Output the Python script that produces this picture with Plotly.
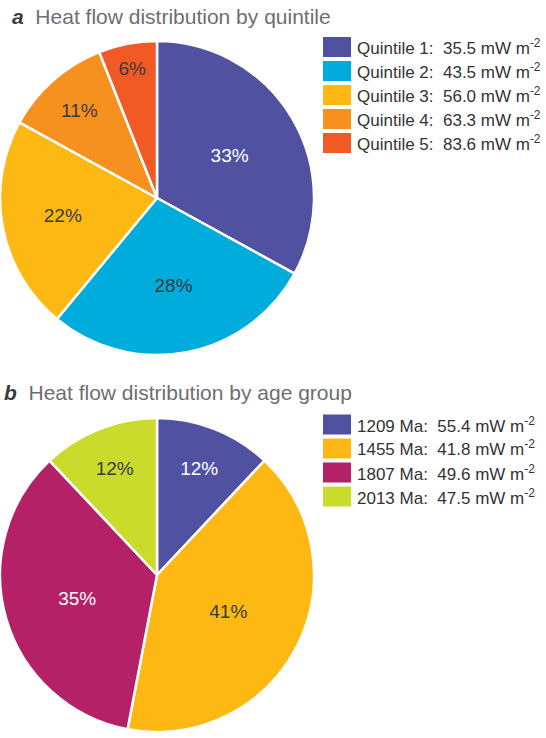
import plotly.graph_objects as go

W, H = 546, 738

# panel a: quintiles
quintile_labels = ["Quintile 1", "Quintile 2", "Quintile 3", "Quintile 4", "Quintile 5"]
quintile_flow = [35.5, 43.5, 56.0, 63.3, 83.6]
quintile_share = [33, 28, 22, 11, 6]
quintile_colors = ["#5151a2", "#00acdc", "#fdb814", "#f6901e", "#f15a24"]
quintile_text = ["#ffffff", "#3a3a3a", "#3a3a3a", "#3a3a3a", "#3a3a3a"]

# panel b: age groups
age_labels = ["1209 Ma", "1455 Ma", "1807 Ma", "2013 Ma"]
age_flow = [55.4, 41.8, 49.6, 47.5]
age_share = [12, 41, 35, 12]
age_colors = ["#5151a2", "#fdb814", "#b52166", "#cbdb2b"]
age_text = ["#ffffff", "#3a3a3a", "#ffffff", "#3a3a3a"]

FONT = "Liberation Sans, Arial, sans-serif"


def px_x(x):
    return x / W


def px_y(y):
    return 1 - y / H


def make_pie(shares, colors, text_colors, labels, ytop, ybot):
    return go.Pie(
        values=shares,
        labels=labels,
        sort=False,
        direction="clockwise",
        rotation=0,
        marker=dict(colors=colors, line=dict(color="white", width=2.5)),
        texttemplate="%{value}%",
        textposition="inside",
        insidetextorientation="horizontal",
        insidetextfont=dict(family=FONT, size=19, color=text_colors),
        domain=dict(x=[0, px_x(314)], y=[px_y(ybot), px_y(ytop)]),
        showlegend=False,
        hoverinfo="label+percent",
    )


fig = go.Figure()
fig.add_trace(make_pie(quintile_share, quintile_colors, quintile_text, quintile_labels, 41, 355))
fig.add_trace(make_pie(age_share, age_colors, age_text, age_labels, 417, 733))

shapes = []
annotations = []


def add_legend(labels, flows, colors, y_first):
    for i, (lab, val, col) in enumerate(zip(labels, flows, colors)):
        yc = y_first + 24 * i
        shapes.append(dict(
            type="rect", xref="paper", yref="paper",
            x0=px_x(323), x1=px_x(351), y0=px_y(yc + 10), y1=px_y(yc - 10),
            fillcolor=col, line=dict(width=0),
        ))
        annotations.append(dict(
            xref="paper", yref="paper", x=px_x(355), y=px_y(yc),
            xanchor="left", yanchor="middle", showarrow=False,
            text=f"{lab}:  {val:.1f} mW m<sup>-2</sup>",
            font=dict(family=FONT, size=17, color="#333333"),
        ))


def add_title(letter, title, x, y):
    annotations.append(dict(
        xref="paper", yref="paper", x=px_x(x), y=px_y(y),
        xanchor="left", yanchor="middle", showarrow=False,
        text=f"<b><i>{letter}</i></b>  <span style='color:#6d6e71'>{title}</span>",
        font=dict(family=FONT, size=21, color="#3a3a3a"),
    ))


add_title("a", "Heat flow distribution by quintile", 10, 16)
add_title("b", "Heat flow distribution by age group", 2, 392)
add_legend(quintile_labels, quintile_flow, quintile_colors, 47)
add_legend(age_labels, age_flow, age_colors, 424.5)

fig.update_layout(
    width=W, height=H,
    margin=dict(l=0, r=0, t=0, b=0),
    paper_bgcolor="white",
    plot_bgcolor="white",
    shapes=shapes,
    annotations=annotations,
    showlegend=False,
)

# drop the browser's default body margin so the figure sits at the page corner
fig.write_html(
    "out.html",
    config={"displayModeBar": False},
    post_script="document.body.style.margin='0';",
)
